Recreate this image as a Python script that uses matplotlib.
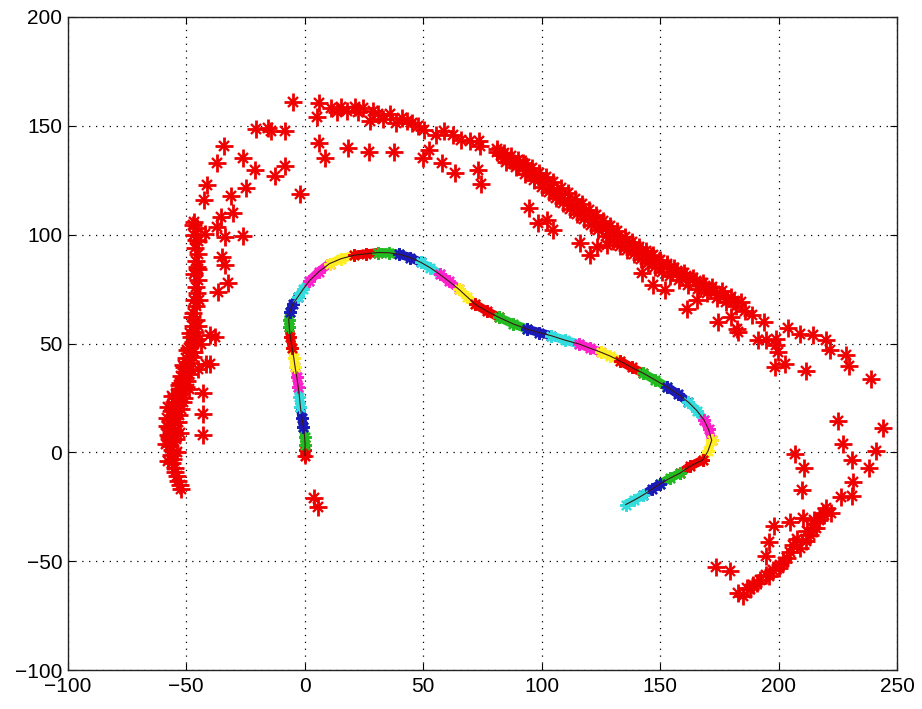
import matplotlib
matplotlib.use('Agg')
import matplotlib.pyplot as plt

plt.rcParams['font.family'] = ['Liberation Sans', 'DejaVu Sans']

# ---- red '*' measurements ----
band_left_x = [-46.5, -45.5, -46.8, -45.2, -46.3, -45.0, -46.0, -45.4, -46.5, -45.2, -46.0, -45.5,
               -46.8, -45.7, -47.0, -46.0, -47.3, -46.2, -48.0, -47.0, -49.0, -48.0, -50.0, -49.0,
               -51.0, -50.3, -52.2, -51.5, -53.2, -52.5, -54.3, -53.5, -55.3, -54.6, -56.0, -55.3,
               -56.8, -55.8, -57.2, -56.3, -57.2, -56.2, -57.0, -56.0, -56.6, -55.6, -55.8, -54.8,
               -54.8, -53.8, -53.6, -52.8, -52.2, -50.0, -51.0, -52.0, -49.5, -57.5, -58.0, -53.0,
               -47.0, -45.7, -44.8, -44.5, -45.0, -46.5, -48.5, -50.5, -56.0, -57.8, -54.0,
               -47.5, -46.0, -48.5, -47.2, -49.8, -48.6, -51.2, -52.5, -53.8, -55.0, -54.2,
               -58.2, -58.5, -57.5, -55.0, -53.5, -52.8, -51.5]
band_left_y = [106, 103, 100, 97, 94, 91, 88, 85, 82, 79, 76, 73,
               70, 67, 64, 61, 58, 55.5, 53, 50.5, 48, 46, 43.5, 41,
               39, 37, 35, 33, 31, 29, 27, 25, 23, 21, 19, 17,
               15, 13, 11, 9, 7, 5, 3, 1, -1, -3, -5, -7,
               -9, -11, -13, -15, -17, 30, 25, 20, 33, 21, 16, 17,
               104.5, 97.5, 84, 70, 58, 46, 38, 34, 26, 8, 0,
               62, 52, 55, 44, 47, 36, 40, 32, 22, 14, 6,
               12, 4, -4, 10, 14, 9, 23]

left_out_x = [-42.2, -33.7, -26.0, -35.0, -33.5, -32.4, -36.6, -39.8, -43.6, -37.9, -40.1, -45.0,
              -41.5, -48.8, -42.9, -43.1, -42.9, -37.2, -35.1, -30.2]
left_out_y = [100.3, 99.1, 99.4, 89.8, 86.0, 77.6, 73.8, 53.7, 49.9, 52.9, 40.6, 38.4,
              40.6, 29.1, 27.1, 17.5, 8.0, 103.7, 108.3, 109.8]

arc_left_x = [-20.6, -14.0, -8.4, -34.1, -37.2, -26.0, -21.1, -12.6, -8.4, -41.3, -24.6, -42.5,
              -30.9, -1.8, -5.0, -15.5]
arc_left_y = [148.5, 147.5, 147.5, 140.6, 133.0, 135.0, 129.5, 127.0, 131.4, 123.0, 121.4, 116.0,
              117.7, 118.8, 161.0, 148.8]

arc_top_x = [6.1, 5.2, 11.3, 15.5, 21.1, 24.7, 22.5, 27.5, 31.0, 36.0, 40.9, 45.1, 47.9, 50.5,
             55.6, 58.7, 62.6, 66.2, 69.7, 73.6, 73.9, 18.0, 33.0, 43.0, 13.5, 29.0, 38.5]
arc_top_y = [160.3, 154.2, 158.3, 158.8, 158.8, 158.3, 156.3, 152.3, 155.3, 155.3, 153.8, 151.5,
             150.0, 148.0, 146.0, 147.6, 146.0, 143.7, 143.0, 143.0, 140.9, 157.0, 153.0, 152.0,
             156.5, 157.0, 151.5]

arc_low_x = [6.1, 8.8, 18.3, 27.1, 37.6, 50.0, 52.4, 58.0, 63.4, 73.2, 74.6]
arc_low_y = [142.1, 135.4, 139.7, 138.2, 138.2, 135.0, 139.0, 133.1, 128.3, 129.8, 123.2]

diag_up_x = [81, 84, 87, 90, 93, 96, 99, 102, 105, 108, 111, 114, 117, 120, 123, 126, 129,
             132, 135, 138, 141, 144, 147, 150, 153, 156, 160, 164, 168, 172, 176, 180, 184]
diag_up_y = [139.5, 137.5, 136, 134.5, 132.5, 130.5, 128.5, 126.5, 124, 121.5, 119, 116.5,
             114, 111.5, 109, 106.5, 104, 101.5, 99, 96.5, 94.5, 92.5, 90.5, 88.5, 86.5, 84.5,
             82.5, 80, 78, 76, 74, 71.5, 69]
diag_mid_x = [83, 86.5, 90, 93.5, 97, 100.5, 104, 107.5, 111, 114.5, 118, 121.5, 125, 128.5,
              132, 135.5, 139, 142.5, 146, 149.5, 153, 157, 161, 165, 169, 173, 177, 181]
diag_mid_y = [136.5, 134.5, 132, 129.5, 127, 124.5, 121.5, 118.5, 116, 113, 110.5, 107.5,
              105, 102, 99.5, 97, 94.5, 92, 90, 88, 85.5, 83.5, 81, 78.5, 76.5, 74, 72, 69.5]
diag_lo_x = [85, 89, 93, 97, 100, 103, 106, 109, 112, 115, 118, 121, 124, 127, 130, 133, 136,
             139, 142, 145, 148, 151, 154, 158, 162, 166, 170, 174, 178, 182, 186]
diag_lo_y = [133.5, 131, 128, 125, 122, 119.5, 117, 114.5, 112, 109.5, 107, 104.5, 102, 99.5,
             97, 95, 93, 91, 89, 87, 85, 83, 81, 79, 77, 75, 73, 71, 69, 67, 65]

diag_out_x = [94.6, 98.5, 102.1, 104.9, 116.1, 120.3, 123.2, 127.4, 142.2, 147.1, 152.0, 161.2,
              165.4, 174.5, 180.1, 182.3, 81.0, 83.8, 87.3, 92.2]
diag_out_y = [112.1, 105.2, 106.8, 102.2, 96.0, 90.6, 94.4, 95.2, 82.2, 76.8, 74.5, 66.0,
              69.8, 59.9, 62.2, 56.7, 138.2, 136.8, 134.5, 133.1]

right_x = [182.9, 191.4, 194.9, 199.1, 199.1, 199.8, 202.7, 198.4, 209.0, 214.6, 220.2, 221.7,
           211.5, 228.3, 229.7, 239.0, 225.2, 244.2, 227.0, 241.3, 230.8, 238.3, 206.9, 210.7,
           210.1, 231.5, 189.0, 194.0, 204.0]
right_y = [55.3, 51.4, 51.4, 52.2, 49.1, 46.0, 40.6, 39.1, 54.5, 53.7, 51.4, 46.8,
           37.3, 44.5, 39.8, 33.7, 14.5, 11.1, 3.7, 0.6, -3.7, -7.1, -0.6, -7.1,
           -17.5, -13.5, 63.0, 60.0, 57.0]

low_x = [183.0, 186.5, 189.3, 192.1, 194.9, 197.7, 200.5, 203.4, 202.0, 206.2, 209.0, 211.8,
         213.2, 214.6, 216.0, 217.1, 210.4, 218.8, 220.2, 222.3, 226.2, 231.1, 196.0, 194.6,
         198.0, 204.8, 173.8, 179.4, 188, 191, 200, 205, 208, 212, 215, 219, 185, 196]
low_y = [-64.8, -62.5, -60.9, -58.6, -56.3, -54.0, -51.7, -48.6, -50.2, -42.5, -44.0, -40.9,
         -37.8, -34.8, -34.8, -30.9, -30.1, -27.8, -25.6, -27.8, -20.6, -20.2, -41.2, -47.8,
         -34.0, -32.0, -52.5, -54.6, -63, -60, -53, -46, -40, -36, -31, -29, -66, -57]

origin_out_x = [3.8, 5.5]
origin_out_y = [-21.0, -25.1]

# ---- coloured path: segment boundary / middle points ----
path_x = [0.2, 0.1, 0.2, 0.0, -0.5, -1.2, -1.8, -2.2, -2.7, -3.3, -4.0, -4.6, -5.3, -6.0,
          -6.5, -6.7, -6.3, -5.0, -2.8, -0.6, 2.0, 6.0, 10.5, 15.5, 21.0, 26.0, 31.0, 35.5,
          40.0, 44.5, 49.0, 53.0, 57.0, 61.0, 65.0, 68.5, 72.0, 77.0, 82.0, 88.0, 94.0, 99.0,
          104.0, 110.0, 116.0, 120.5, 125.0, 129.0, 133.0, 138.0, 143.0, 148.0, 153.0, 157.5,
          162.0, 165.5, 168.5, 170.5, 171.8, 170.2, 168.0, 162.5, 158.5, 154.0, 150.0, 146.5,
          143.0, 139.0, 135.5]
path_y = [-1.5, 1.0, 3.5, 7.0, 11.5, 16.0, 21.0, 25.5, 30.0, 34.5, 39.0, 43.5, 48.0, 53.0,
          57.5, 61.0, 64.5, 68.0, 71.5, 75.0, 78.8, 83.0, 86.7, 89.0, 90.6, 91.2, 91.8, 91.7,
          91.0, 89.5, 87.3, 84.8, 81.8, 78.5, 75.0, 71.5, 68.0, 64.8, 62.0, 59.0, 56.6, 55.0,
          53.6, 51.5, 49.7, 47.8, 46.0, 44.2, 42.0, 39.0, 36.3, 33.2, 30.0, 26.8, 23.0, 19.2,
          15.0, 10.5, 5.5, 0.5, -3.5, -6.5, -9.5, -12.0, -14.5, -17.0, -19.5, -22.0, -24.0]
seg_colors = ['#ee0000', '#22bb22', '#1a1ab8', '#33dddd', '#ff22cc', '#ffee22']

fig = plt.figure(figsize=(9.22, 7.09), dpi=100)
ax = fig.add_axes([67.7 / 922, 1 - 670 / 709, (897 - 67.7) / 922, (670 - 17) / 709])

groups = [(band_left_x, band_left_y), (left_out_x, left_out_y), (arc_left_x, arc_left_y),
          (arc_top_x, arc_top_y), (arc_low_x, arc_low_y), (diag_up_x, diag_up_y),
          (diag_mid_x, diag_mid_y), (diag_lo_x, diag_lo_y), (diag_out_x, diag_out_y),
          (right_x, right_y), (low_x, low_y), (origin_out_x, origin_out_y)]
for gx, gy in groups:
    ax.plot(gx, gy, '+', color='#ee0000', ms=12.5, mew=2.0, zorder=3)
    ax.plot(gx, gy, 'x', color='#ee0000', ms=7, mew=1.7, zorder=3)

nseg = (len(path_x) - 1) // 2
for i in range(nseg):
    c = seg_colors[i % len(seg_colors)]
    sx = path_x[2 * i:2 * i + 3]
    sy = path_y[2 * i:2 * i + 3]
    ax.plot(sx, sy, '-', color=c, lw=6.5, solid_capstyle='butt', zorder=4)
    ax.plot(sx, sy, linestyle='none', marker=(8, 2, 0), color=c, ms=9, mew=1.6, zorder=4)
# starting point
ax.plot(path_x[:1], path_y[:1], '+', color='#ee0000', ms=12, mew=1.8, zorder=5)
ax.plot(path_x, path_y, '-', color='#3a1a10', lw=0.8, zorder=6)

ax.set_xlim(-100, 250)
ax.set_ylim(-100, 200)
ax.set_xticks(range(-100, 251, 50))
ax.set_yticks(range(-100, 201, 50))
ax.grid(True, color='k', linestyle=(0, (1, 4.5)), linewidth=0.9)
ax.tick_params(direction='in', length=5, width=0.8, top=True, right=True,
               labelsize=15, pad=4)
ax.tick_params(axis='x', pad=5)
for s in ax.spines.values():
    s.set_linewidth(1.0)
    s.set_color('#222222')

fig.savefig('out.png', dpi=100, facecolor='white')
